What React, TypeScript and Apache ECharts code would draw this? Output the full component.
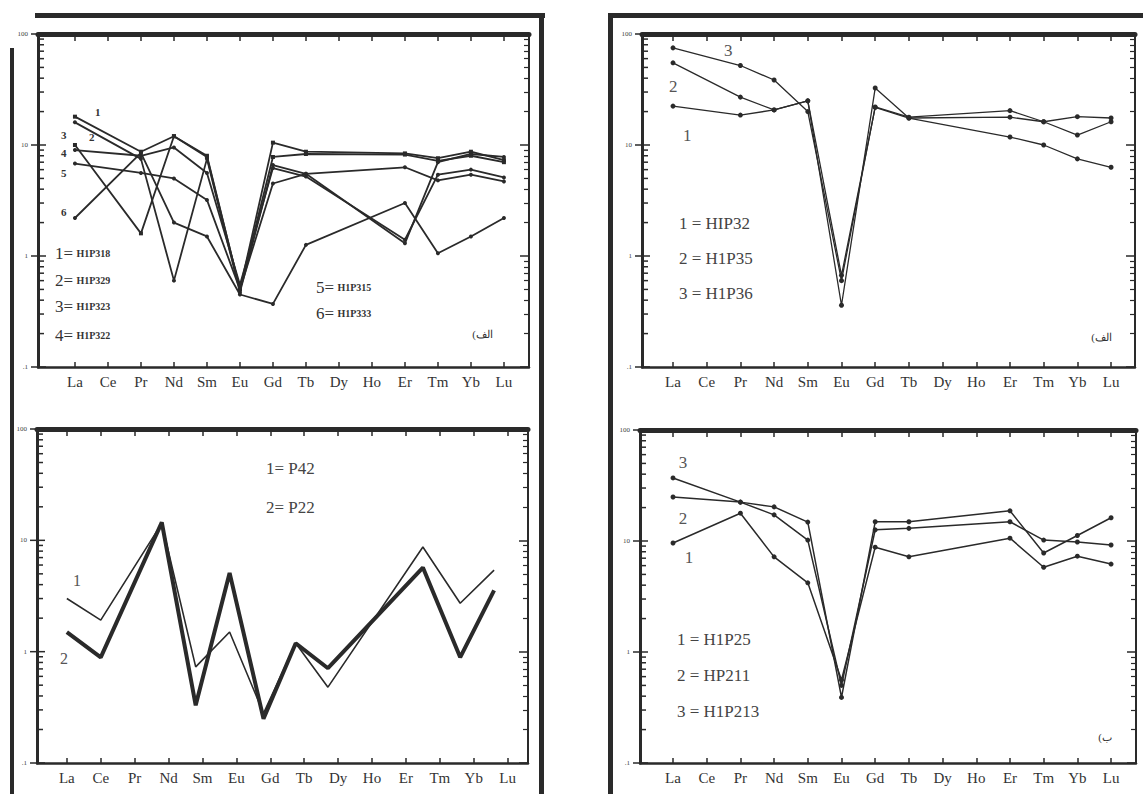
import React, { useEffect, useRef } from "react";
import * as echarts from "echarts";

// ---------- data ----------
const elements = ["La", "Ce", "Pr", "Nd", "Sm", "Eu", "Gd", "Tb", "Dy", "Ho", "Er", "Tm", "Yb", "Lu"];
const elementIdx = elements.map((_, i) => i);
const majorTicks = [0.1, 1, 10, 100];
const minorTicks = [0.2, 0.3, 0.4, 0.5, 0.6, 0.7, 0.8, 0.9, 2, 3, 4, 5, 6, 7, 8, 9, 20, 30, 40, 50, 60, 70, 80, 90];

// Panel (top-left)
const tlNames = ["H1P318", "H1P329", "H1P323", "H1P322", "H1P315", "H1P333"];
const tlH1P318 = [18, null, 8.7, 12, 8, 0.5, 10.5, 8.7, null, null, 8.4, 7.6, 8.7, 7.3];
const tlH1P329 = [16, null, 7.5, 0.6, 7.5, 0.47, 6.6, 5.5, null, null, 1.3, 7.0, 8.3, 7.8];
const tlH1P323 = [10, null, 1.6, 12, 7.8, 0.5, 7.8, 8.3, null, null, 8.2, 7.2, 8.0, 7.0];
const tlH1P322 = [9, null, 8, 9.5, 5.6, 0.55, 6.2, 5.2, null, null, 1.4, 5.4, 6.0, 5.1];
const tlH1P315 = [6.8, null, 5.6, 5.0, 3.2, 0.5, 4.5, 5.5, null, null, 6.3, 4.8, 5.4, 4.7];
const tlH1P333 = [2.2, null, 8.5, 2.0, 1.5, 0.45, 0.37, 1.26, null, null, 3.0, 1.06, 1.5, 2.2];

// Panel (top-right)
const trNames = ["HIP32", "H1P35", "H1P36"];
const trHIP32 = [22.4, null, 18.6, 20.7, 25, 0.67, 21.8, 17.5, null, null, 11.8, 10, 7.5, 6.3];
const trH1P35 = [55, null, 27, 20.7, 25, 0.36, 32.6, 17.5, null, null, 17.8, 16.2, 12.3, 16.2];
const trH1P36 = [75, null, 52, 38.5, 20, 0.6, 22, 17.8, null, null, 20.4, 16.2, 18, 17.5];

// Panel (bottom-left): positions as plotted (points drift from the label positions)
const blNames = ["P42", "P22"];
const blPositions = [0, 1, 2.8, 3.8, 4.8, 5.8, 6.75, 7.7, 10.5, 11.6, 12.6];
const blP42 = [3.0, 1.92, 14.2, 0.73, 1.5, 0.28, 1.19, 0.48, 8.7, 2.72, 5.4];
const blP22 = [1.5, 0.89, 14.5, 0.33, 5.1, 0.25, 1.19, 0.71, 5.7, 0.89, 3.55];

// Panel (bottom-right)
const brNames = ["H1P25", "HP211", "H1P213"];
const brH1P25 = [9.6, null, 17.8, 7.2, 4.2, 0.56, 8.8, 7.2, null, null, 10.6, 5.8, 7.3, 6.2];
const brHP211 = [24.9, null, 22.4, 17.2, 10.2, 0.5, 12.6, 13, null, null, 14.9, 10.2, 9.8, 9.2];
const brH1P213 = [37, null, 22.4, 20.3, 14.8, 0.39, 14.9, 14.9, null, null, 18.7, 7.8, 11.2, 16.2];

// ---------- helpers ----------
const INK = "#2a2a2a";
const SERIF = "'Liberation Serif', 'DejaVu Serif', serif";

const toPairs = (vals: (number | null)[], xs?: number[]) =>
  vals
    .map((v, i) => (v == null ? null : [xs ? xs[i] : i, v]))
    .filter((d) => d != null);

const tickLabel = (v: number) => (v < 0.5 ? ".1" : v < 5 ? "1" : v < 50 ? "10" : "100");

type PanelGeo = { left: number; top: number; width: number; height: number; xmin: number; xmax: number };

const panels: PanelGeo[] = [
  { left: 38, top: 34, width: 491, height: 333, xmin: -1.12, xmax: 13.76 },
  { left: 642, top: 34, width: 493, height: 333, xmin: -0.92, xmax: 13.71 },
  { left: 37, top: 429, width: 491, height: 334, xmin: -0.88, xmax: 13.6 },
  { left: 640, top: 430, width: 496, height: 333, xmin: -0.98, xmax: 13.74 },
];

function buildLayout() {
  const grid: any[] = [];
  const xAxis: any[] = [];
  const yAxis: any[] = [];
  const yBase = (g: number) => ({ gridIndex: g, type: "log", logBase: 10, min: 0.1, max: 100, splitLine: { show: false } });

  // main grids 0..3 (series refer to xAxis/yAxis index = panel index)
  panels.forEach((p, i) => {
    grid.push({ left: p.left, top: p.top, width: p.width, height: p.height });
    xAxis.push({
      gridIndex: i, type: "value", min: p.xmin, max: p.xmax, position: "bottom",
      axisLine: { show: true, onZero: false, lineStyle: { color: INK, width: 2.5 } },
      axisTick: { show: true, inside: true, length: 5, customValues: elementIdx, lineStyle: { color: INK, width: 1.5 } },
      axisLabel: {
        customValues: elementIdx, formatter: (v: number) => elements[Math.round(v)] ?? "",
        fontFamily: SERIF, fontSize: 15, color: "#333", margin: 7,
      },
      splitLine: { show: false },
    });
    yAxis.push({
      ...yBase(i), position: "left",
      axisLine: { show: true, onZero: false, lineStyle: { color: INK, width: 3 } },
      axisTick: { show: false },
      axisLabel: { customValues: majorTicks, formatter: tickLabel, fontSize: 7, fontFamily: SERIF, color: "#444", margin: 10 },
    });
  });
  panels.forEach((p, i) => {
    xAxis.push({
      gridIndex: i, type: "value", min: p.xmin, max: p.xmax, position: "top",
      axisLine: { show: true, onZero: false, lineStyle: { color: INK, width: 5 } },
      axisTick: { show: true, inside: true, length: 7, customValues: elementIdx, lineStyle: { color: INK, width: 1.5 } },
      axisLabel: { show: false },
      splitLine: { show: false },
    });
    yAxis.push({
      ...yBase(i), position: "right",
      axisLine: { show: true, onZero: false, lineStyle: { color: INK, width: 2 } },
      axisTick: { show: true, inside: true, length: 9, customValues: majorTicks, lineStyle: { color: INK, width: 1.5 } },
      axisLabel: { show: false },
    });
    // overlay grid carrying the right-hand minor ticks
    const g = grid.length;
    grid.push({ left: p.left, top: p.top, width: p.width, height: p.height });
    xAxis.push({
      gridIndex: g, type: "value", min: 0, max: 1, position: "bottom",
      axisLine: { show: false, onZero: false }, axisTick: { show: false }, axisLabel: { show: false }, splitLine: { show: false },
    });
    yAxis.push({
      ...yBase(g), position: "right",
      axisLine: { show: false, onZero: false },
      axisTick: { show: true, inside: true, length: 5, customValues: minorTicks, lineStyle: { color: INK, width: 1.2 } },
      axisLabel: { show: false },
    });
  });
  return { grid, xAxis, yAxis };
}

function lineSeries(panel: number, name: string, data: any[], opts: any = {}) {
  return {
    type: "line", name, xAxisIndex: panel, yAxisIndex: panel, data,
    symbol: opts.symbol ?? "circle", symbolSize: opts.symbolSize ?? 4,
    lineStyle: { color: INK, width: opts.width ?? 1.4 },
    itemStyle: { color: INK },
    z: opts.z ?? 3,
  };
}

function txt(x: number, y: number, text: string, size: number, extra: any = {}) {
  return {
    type: "text", x, y, z: 20,
    style: {
      text, fontSize: size, fontFamily: SERIF, fill: extra.fill ?? "#333",
      fontWeight: extra.bold ? "bold" : "normal",
      align: extra.align ?? "left", verticalAlign: "middle",
    },
  };
}

function richLegend(x: number, y: number, num: string, name: string) {
  return {
    type: "text", x, y, z: 20,
    style: {
      text: `{a|${num}=} {b|${name}}`,
      align: "left", verticalAlign: "middle",
      rich: {
        a: { fontSize: 17, fontFamily: SERIF, fill: "#333" },
        b: { fontSize: 10, fontFamily: SERIF, fontWeight: "bold", fill: "#333" },
      },
    },
  };
}

function rect(x: number, y: number, w: number, h: number) {
  return { type: "rect", z: 10, shape: { x, y, width: w, height: h }, style: { fill: INK } };
}

export default function App() {
  const ref = useRef<HTMLDivElement>(null);
  useEffect(() => {
    if (!ref.current) return;
    const chart = echarts.init(ref.current, null, { renderer: "svg" });
    const { grid, xAxis, yAxis } = buildLayout();

    const tlSeries = [tlH1P318, tlH1P329, tlH1P323, tlH1P322, tlH1P315, tlH1P333].map((vals, k) =>
      lineSeries(0, tlNames[k], toPairs(vals), { symbol: k === 0 || k === 2 ? "rect" : "circle", symbolSize: 4, width: 1.8 })
    );
    const trSeries = [trHIP32, trH1P35, trH1P36].map((vals, k) =>
      lineSeries(1, trNames[k], toPairs(vals), { symbolSize: 5, width: 1.3 })
    );
    const blSeries = [
      lineSeries(2, blNames[0], toPairs(blP42, blPositions), { symbol: "none", width: 1.6, z: 4 }),
      lineSeries(2, blNames[1], toPairs(blP22, blPositions), { symbol: "none", width: 4 }),
    ];
    const brSeries = [brH1P25, brHP211, brH1P213].map((vals, k) =>
      lineSeries(3, brNames[k], toPairs(vals), { symbolSize: 5, width: 1.5 })
    );

    const graphic: any[] = [
      // outer page frames
      rect(35, 13, 510, 5),
      rect(539, 13, 5, 781),
      rect(10, 48, 4, 746),
      rect(608, 13, 535, 5),
      rect(608, 13, 5, 781),
      // top-left texts
      txt(95, 112, "1", 11, { bold: true }),
      txt(61, 135, "3", 11, { bold: true }),
      txt(89, 137, "2", 11, { bold: true }),
      txt(61, 153, "4", 11, { bold: true }),
      txt(61, 173, "5", 11, { bold: true }),
      txt(61, 212, "6", 11, { bold: true }),
      richLegend(55, 253, "1", tlNames[0]),
      richLegend(55, 280, "2", tlNames[1]),
      richLegend(55, 306, "3", tlNames[2]),
      richLegend(55, 335, "4", tlNames[3]),
      richLegend(316, 287, "5", tlNames[4]),
      richLegend(316, 313, "6", tlNames[5]),
      txt(493, 334, "(الف", 11, { align: "right" }),
      // top-right texts
      txt(724, 50, "3", 17, { fill: "#555" }),
      txt(669, 86, "2", 17, { fill: "#555" }),
      txt(683, 135, "1", 17, { fill: "#555" }),
      txt(679, 223, `1 = ${trNames[0]}`, 17, { fill: "#444" }),
      txt(679, 258, `2 = ${trNames[1]}`, 17, { fill: "#444" }),
      txt(679, 293, `3 = ${trNames[2]}`, 17, { fill: "#444" }),
      txt(1112, 337, "(الف", 11, { align: "right" }),
      // bottom-left texts
      txt(266, 468, `1= ${blNames[0]}`, 17, { fill: "#444" }),
      txt(266, 507, `2= ${blNames[1]}`, 17, { fill: "#444" }),
      txt(77, 580, "1", 16, { fill: "#555", align: "center" }),
      txt(64, 658, "2", 16, { fill: "#555", align: "center" }),
      // bottom-right texts
      txt(683, 462, "3", 17, { fill: "#555", align: "center" }),
      txt(683, 518, "2", 17, { fill: "#555", align: "center" }),
      txt(689, 557, "1", 17, { fill: "#555", align: "center" }),
      txt(677, 639, `1 = ${brNames[0]}`, 17, { fill: "#444" }),
      txt(677, 675, `2 = ${brNames[1]}`, 17, { fill: "#444" }),
      txt(677, 711, `3 = ${brNames[2]}`, 17, { fill: "#444" }),
      txt(1112, 737, "(ب", 11, { align: "right" }),
    ];

    chart.setOption({
      animation: false,
      backgroundColor: "#ffffff",
      grid,
      xAxis,
      yAxis,
      series: [...tlSeries, ...trSeries, ...blSeries, ...brSeries],
      graphic,
    });

    // left-hand log ticks, positioned through each panel's own y scale
    const tickLines: any[] = [];
    try {
      panels.forEach((p, i) => {
        [...majorTicks, ...minorTicks].forEach((v) => {
          const y = chart.convertToPixel({ yAxisIndex: i } as any, v) as any;
          if (typeof y !== "number" || !isFinite(y)) return;
          const major = majorTicks.includes(v);
          tickLines.push({
            type: "line", z: 15,
            shape: { x1: p.left, y1: y, x2: p.left + (major ? 8 : 6), y2: y },
            style: { stroke: INK, lineWidth: 1.5 },
          });
          if (major) {
            tickLines.push({
              type: "line", z: 15,
              shape: { x1: p.left - 7, y1: y, x2: p.left, y2: y },
              style: { stroke: INK, lineWidth: 1.5 },
            });
          }
        });
      });
    } catch (e) {
      // ignore: ticks are decorative
    }
    if (tickLines.length) chart.setOption({ graphic: [...graphic, ...tickLines] });

    return () => chart.dispose();
  }, []);
  return <div ref={ref} style={{ position: "fixed", left: 0, top: 0, width: 1143, height: 794, background: "#fff" }} />;
}
